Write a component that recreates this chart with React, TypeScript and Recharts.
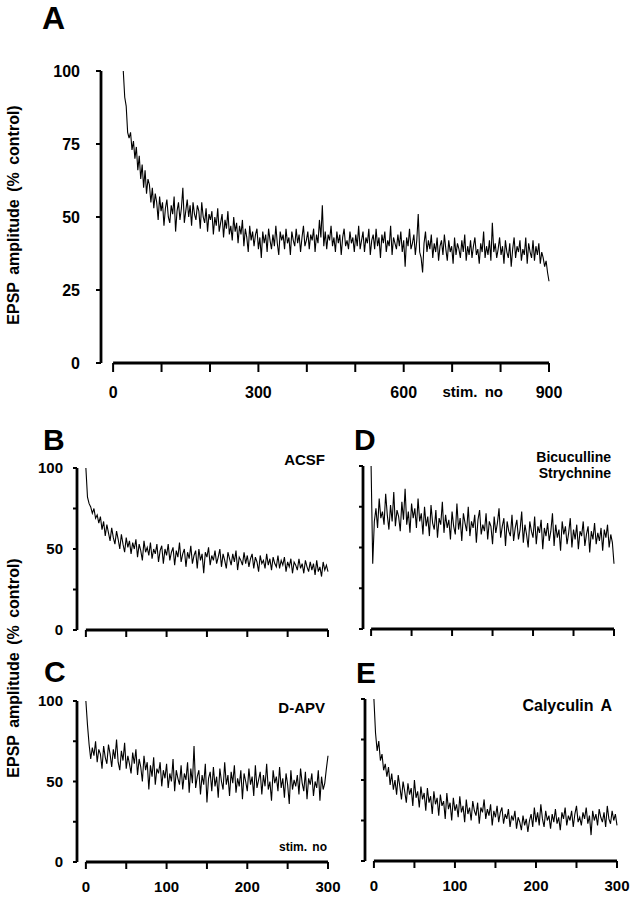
import React from "react";
import { LineChart, Line, XAxis, YAxis, ReferenceLine } from "recharts";

// Panel A: stim 21..900, every 3rd stimulus
const stimA_start = 21;
const stimA_step = 3;
const valuesA = [
  100, 91, 88, 79, 77, 79, 73, 76, 70, 74,
  66, 71, 63, 68, 60, 66, 58, 63, 61, 55,
  60, 53, 58, 55, 49, 57, 52, 55, 47, 53,
  56, 50, 48, 54, 51, 57, 45, 52, 55, 49,
  53, 60, 48, 52, 56, 50, 54, 47, 55, 51,
  49, 54, 52, 46, 55, 50, 48, 53, 45, 51,
  49, 52, 44, 50, 47, 53, 45, 48, 51, 43,
  49, 46, 52, 44, 47, 42, 50, 45, 48, 41,
  47, 44, 49, 40, 46, 43, 38, 47, 42, 45,
  40, 44, 46, 39, 43, 36, 45, 41, 44, 38,
  46, 42, 39, 44, 40, 47, 41, 37, 45, 42,
  44, 39, 46, 41, 43, 37, 45, 42, 40, 46,
  41, 44, 38, 43, 47, 40, 42, 45, 39, 44,
  42, 46, 38, 44, 41, 49, 43, 54, 40, 45,
  39, 44, 42, 47, 40, 43, 38, 45, 41, 44,
  37, 43, 46, 40, 42, 39, 45, 41, 43, 38,
  44, 40, 47, 39, 42, 45, 38, 43, 41, 46,
  37, 42, 44, 39, 46, 40, 43, 36, 44, 41,
  45, 38, 42, 40, 47, 37, 43, 41, 39, 44,
  40, 45, 38, 42, 33, 43, 40, 46, 39, 41,
  44, 37, 42, 51, 38, 36, 31, 41, 45, 38,
  42, 39, 44, 36, 41, 38, 43, 35, 40, 42,
  37, 44, 39, 35, 42, 38, 40, 34, 43, 37,
  41, 39, 36, 42, 38, 44, 35, 40, 37, 42,
  36, 40, 43, 37, 39, 34, 41, 38, 45, 36,
  40, 37, 42, 35, 48, 38, 41, 36, 39, 43,
  37, 40, 34, 42, 38, 36, 41, 33, 39, 43,
  36, 40, 38, 42, 35, 39, 37, 43, 34, 41,
  38, 36, 42, 35, 40, 37, 41, 34, 38, 36,
  33, 35, 31, 28,
];

// Panels B-E: stim 0..300, every 2nd stimulus
const stimSmall_step = 2;
const valuesACSF = [
  100, 82, 78, 76, 72, 75, 69, 71, 66, 70,
  62, 67, 58, 65, 60, 55, 63, 57, 53, 61,
  56, 50, 59, 53, 48, 57, 51, 55, 47, 54,
  50, 56, 45, 53, 49, 43, 55, 48, 51, 46,
  54, 44, 50, 47, 53, 42, 49, 52, 41, 50,
  46, 53, 43, 48, 51, 40, 49, 45, 54, 42,
  47, 50, 39, 48, 44, 52, 41, 46, 49, 38,
  50, 43, 47, 35, 48, 45, 51, 40, 46, 43,
  49, 41, 45, 50, 39, 47, 43, 38, 48, 44,
  40, 47, 42, 49, 37, 45, 43, 40, 48, 41,
  46, 39, 44, 47, 38, 45, 42, 36, 46, 41,
  43, 38, 47, 40, 44, 37, 45, 41, 39, 46,
  38, 43, 40, 45, 36, 42, 39, 44, 35, 42,
  40, 37, 44, 38, 41, 35, 43, 39, 36, 42,
  37, 41, 34, 43, 36, 39, 33, 42, 37, 40,
  36,
];
const valuesAPV = [
  100, 85, 73, 64, 71, 66, 75, 62, 70, 67,
  58, 72, 65, 61, 73, 67, 59, 70, 64, 76,
  62, 57, 69, 63, 74, 58, 66, 61, 55, 68,
  61, 70, 54, 64, 59, 50, 66, 57, 62, 45,
  60, 53, 65, 48, 58, 55, 62, 47, 57, 52,
  61, 46, 55, 50, 64, 44, 57, 52, 48, 60,
  45, 55, 51, 62, 43, 58, 49, 72, 46, 53,
  57, 42, 54, 48, 61, 37, 52, 56, 44, 59,
  47, 53, 40, 58, 50, 45, 62, 48, 54, 41,
  56, 49, 60, 43, 52, 47, 57, 39, 55, 50,
  44, 58, 48, 53, 41, 60, 46, 51, 56, 42,
  54, 47, 61, 45, 50, 38, 57, 49, 53, 44,
  59, 46, 52, 40, 55, 48, 36, 57, 45, 51,
  47, 54, 42, 58, 49, 44, 56, 39, 52, 48,
  55, 41, 50, 46, 57, 38, 53, 45, 49, 58,
  66,
];
const valuesBicStry = [
  100, 40, 66, 74, 62, 80, 68, 72, 64, 83,
  70, 61, 76, 66, 84, 63, 73, 69, 60, 78,
  67, 86, 64, 72, 59, 77, 68, 74, 62, 80,
  66, 71, 58, 75, 63, 69, 57, 76, 65, 61,
  73, 56, 68, 64, 78, 59, 70, 62, 67, 55,
  72, 63, 58, 77, 61, 68, 54, 71, 65, 60,
  75, 57, 66, 62, 70, 53, 67, 73, 58, 64,
  60, 71, 55, 66, 63, 52, 69, 59, 65, 74,
  56, 63, 68, 51, 66, 60, 57, 70, 54, 62,
  67, 55, 61, 72, 53, 64, 58, 50, 66, 60,
  56, 69, 52, 63, 59, 67, 49, 62, 57, 65,
  54, 60, 71, 51, 64, 56, 61, 48, 66, 58,
  63, 52, 59, 68, 50, 61, 55, 64, 49, 60,
  57, 66, 51, 58, 63, 47, 60, 55, 65, 52,
  59, 54, 62, 48, 61, 56, 64, 50, 58, 53,
  40,
];
const valuesCalyculin = [
  100, 79, 68, 74, 62, 66, 56, 60, 52, 58,
  47, 54, 44, 50, 41, 53, 46, 38, 49, 43,
  36, 48, 41, 45, 34, 50, 39, 43, 33, 46,
  38, 42, 31, 45, 36, 40, 29, 43, 35, 39,
  28, 41, 34, 37, 26, 42, 32, 36, 25, 39,
  31, 35, 27, 40, 30, 34, 24, 38, 29, 33,
  25, 37, 31, 28, 36, 23, 33, 30, 38, 26,
  32, 28, 35, 22, 31, 27, 34, 24, 30, 33,
  23, 29, 26, 32, 21, 28, 25, 31, 20, 27,
  24, 19, 28, 22, 26, 18, 25, 29, 21, 33,
  24, 30, 22, 35, 26, 21, 31, 25, 28, 20,
  29, 24, 32, 23, 27, 19, 30, 26, 33, 22,
  28, 25, 31, 21, 29, 34, 24, 27, 22, 30,
  26, 33, 23, 28, 16, 31, 25, 29, 22, 32,
  27, 24, 30, 21, 34, 26, 23, 31, 25, 29,
  22,
];

const ticksA = [0, 100, 200, 300, 400, 500, 600, 700, 800, 900];
const labelsA = [0, 300, 600, 900];
const ticksSmallX = [0, 50, 100, 150, 200, 250, 300];
const labelsSmallX = [0, 100, 200, 300];
const ticksYA = [0, 25, 50, 75, 100];
const ticksYSmall = [0, 25, 50, 75, 100];
const labelsYSmall = [0, 50, 100];

const W = 635;
const H = 899;
const FONT = "'Liberation Sans', Arial, sans-serif";

const toRows = (vals: number[], start: number, step: number) =>
  vals.map((v, i) => ({ x: start + i * step, v }));

type PanelProps = {
  data: { x: number; v: number }[];
  left: number;
  right: number;
  top: number;
  bottom: number;
  xDomain: [number, number];
  xMax: number;
  xTicks: number[];
  xLabels: number[];
  yLabels: number[];
  yTicks: number[];
  fontSize: number;
  xTickSize: number;
  yTickSize: number;
  yTickMargin: number;
  xTickMargin: number;
};

function Panel(p: PanelProps) {
  const yW = 60;
  const xH = 40;
  return (
    <div style={{ position: "absolute", left: 0, top: 0 }}>
      <LineChart
        width={W}
        height={H}
        data={p.data}
        margin={{ top: p.top, left: p.left - yW, right: W - p.right, bottom: H - p.bottom - xH }}
      >
        <XAxis
          dataKey="x"
          type="number"
          domain={p.xDomain}
          ticks={p.xTicks}
          height={xH}
          axisLine={false}
          tickLine={{ stroke: "#000", strokeWidth: 2 }}
          tickSize={p.xTickSize}
          tickMargin={p.xTickMargin}
          tickFormatter={(t: number) => (p.xLabels.includes(t) ? String(t) : "")}
          tick={{ fill: "#000", fontSize: p.fontSize, fontWeight: 700, fontFamily: FONT }}
          interval={0}
        />
        <YAxis
          type="number"
          domain={[0, 100]}
          ticks={p.yTicks}
          width={yW}
          axisLine={{ stroke: "#000", strokeWidth: 2.8 }}
          tickLine={{ stroke: "#000", strokeWidth: 2 }}
          tickSize={p.yTickSize}
          tickMargin={p.yTickMargin}
          tickFormatter={(t: number) => (p.yLabels.includes(t) ? String(t) : "")}
          tick={{ fill: "#000", fontSize: p.fontSize, fontWeight: 700, fontFamily: FONT }}
          interval={0}
        />
        <ReferenceLine
          segment={[{ x: 0, y: 0 }, { x: p.xMax, y: 0 }]}
          stroke="#000"
          strokeWidth={2.8}
          ifOverflow="visible"
        />
        <Line
          type="linear"
          dataKey="v"
          stroke="#000"
          strokeWidth={1.1}
          dot={false}
          isAnimationActive={false}
        />
      </LineChart>
    </div>
  );
}

export default function App() {
  const txt = { fontFamily: FONT, fontWeight: 700, fill: "#000" } as const;
  return (
    <div style={{ position: "absolute", left: 0, top: 0, width: W, height: H, background: "#fff" }}>
      <Panel
        data={toRows(valuesA, stimA_start, stimA_step)}
        left={101} right={549} top={71} bottom={363}
        xDomain={[-25, 900]} xMax={900}
        xTicks={ticksA} xLabels={labelsA}
        yTicks={ticksYA} yLabels={ticksYA}
        fontSize={16} xTickSize={9} yTickSize={5} yTickMargin={16} xTickMargin={15}
      />
      <Panel
        data={toRows(valuesACSF, 0, stimSmall_step)}
        left={77} right={328} top={468} bottom={630}
        xDomain={[-11, 300]} xMax={300}
        xTicks={ticksSmallX} xLabels={[]}
        yTicks={ticksYSmall} yLabels={labelsYSmall}
        fontSize={15} xTickSize={7} yTickSize={4} yTickMargin={10} xTickMargin={12}
      />
      <Panel
        data={toRows(valuesAPV, 0, stimSmall_step)}
        left={77} right={328} top={701} bottom={862}
        xDomain={[-11, 300]} xMax={300}
        xTicks={ticksSmallX} xLabels={labelsSmallX}
        yTicks={ticksYSmall} yLabels={labelsYSmall}
        fontSize={15} xTickSize={7} yTickSize={4} yTickMargin={10} xTickMargin={12}
      />
      <Panel
        data={toRows(valuesBicStry, 0, stimSmall_step)}
        left={363} right={614} top={466} bottom={629}
        xDomain={[-10, 300]} xMax={300}
        xTicks={ticksSmallX} xLabels={[]}
        yTicks={ticksYSmall} yLabels={[]}
        fontSize={15} xTickSize={7} yTickSize={4} yTickMargin={10} xTickMargin={12}
      />
      <Panel
        data={toRows(valuesCalyculin, 0, stimSmall_step)}
        left={365} right={617} top={699} bottom={861}
        xDomain={[-11, 300]} xMax={300}
        xTicks={ticksSmallX} xLabels={labelsSmallX}
        yTicks={ticksYSmall} yLabels={[]}
        fontSize={15} xTickSize={7} yTickSize={4} yTickMargin={10} xTickMargin={12}
      />
      <svg width={W} height={H} style={{ position: "absolute", left: 0, top: 0, pointerEvents: "none" }}>
        <text x={42} y={29} fontSize={32} {...txt}>A</text>
        <text x={43} y={450} fontSize={30} {...txt}>B</text>
        <text x={44} y={682} fontSize={30} {...txt}>C</text>
        <text x={354} y={450} fontSize={30} {...txt}>D</text>
        <text x={356} y={683} fontSize={30} {...txt}>E</text>

        <text transform="translate(19,215) rotate(-90)" textAnchor="middle" fontSize={16} {...txt} style={{ wordSpacing: 3 }}>
          EPSP amplitude (% control)
        </text>
        <text transform="translate(19,668) rotate(-90)" textAnchor="middle" fontSize={16} {...txt} style={{ wordSpacing: 3 }}>
          EPSP amplitude (% control)
        </text>

        <text x={503} y={397} textAnchor="end" fontSize={15} {...txt} style={{ wordSpacing: 3 }}>stim. no</text>
        <text x={327} y={851} textAnchor="end" fontSize={12} {...txt} style={{ wordSpacing: 2 }}>stim. no</text>

        <text x={325} y={465} textAnchor="end" fontSize={15} {...txt}>ACSF</text>
        <text x={325} y={713} textAnchor="end" fontSize={15} {...txt}>D-APV</text>
        <text x={611} y={462} textAnchor="end" fontSize={14} {...txt}>Bicuculline</text>
        <text x={611} y={478} textAnchor="end" fontSize={14} {...txt}>Strychnine</text>
        <text x={612} y={711} textAnchor="end" fontSize={16} {...txt} style={{ wordSpacing: 3 }}>Calyculin A</text>
      </svg>
    </div>
  );
}
